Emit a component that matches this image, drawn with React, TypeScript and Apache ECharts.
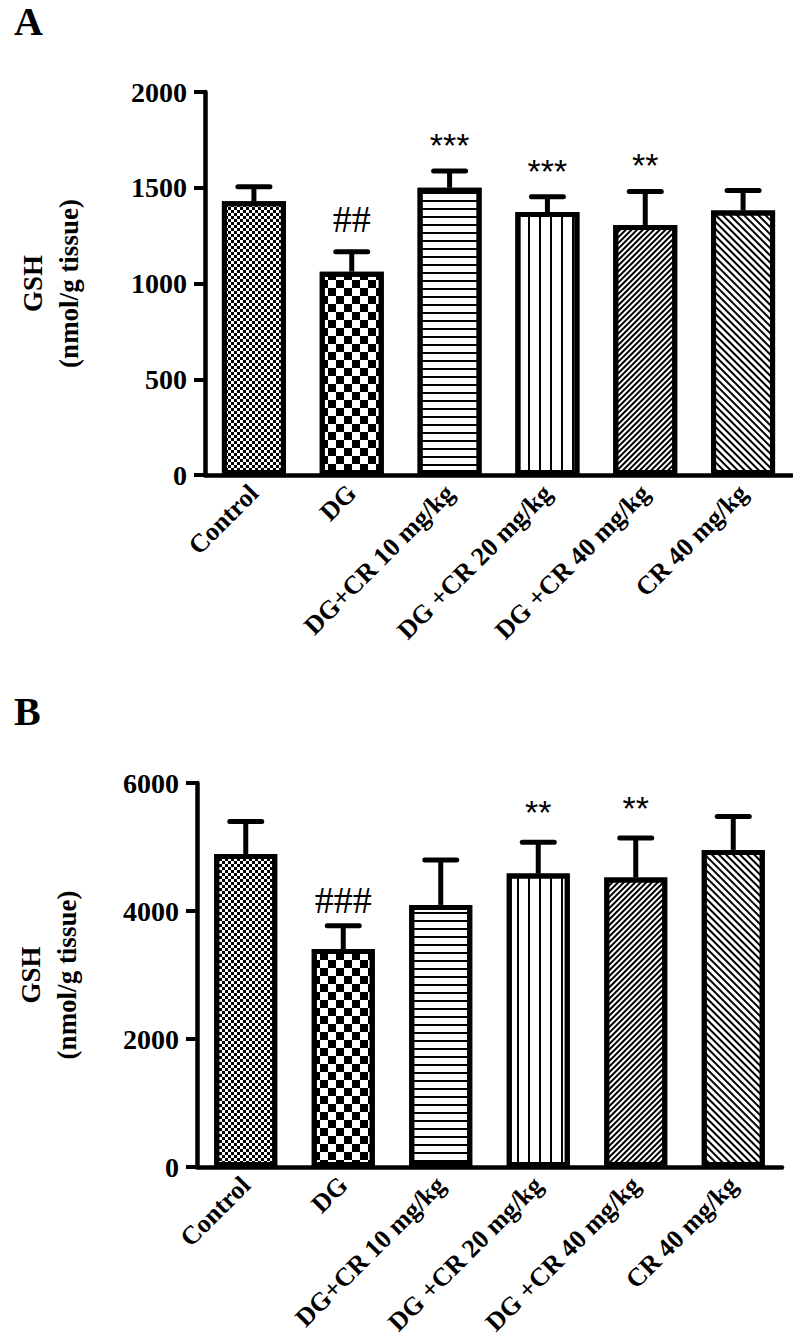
import React, { useEffect, useRef } from "react";
import * as echarts from "echarts";

// ---- data ----
const categories = [
  "Control",
  "DG",
  "DG+CR 10 mg/kg",
  "DG +CR 20 mg/kg",
  "DG +CR 40 mg/kg",
  "CR 40 mg/kg",
];
const gshA = [1430, 1062, 1500, 1373, 1305, 1381];
const semA = [75, 104, 87, 80, 176, 104];
const sigA = ["", "##", "***", "***", "**", ""];
const gshB = [4890, 3405, 4095, 4585, 4525, 4955];
const semB = [510, 365, 700, 490, 615, 520];
const sigB = ["", "###", "", "**", "**", ""];
const yMaxA = 2000;
const yStepA = 500;
const yMaxB = 6000;
const yStepB = 2000;
const axisTitle = "GSH\n(nmol/g tissue)";
const panelLabels = ["A", "B"];

// ---- styles ----
const SERIF = "Liberation Serif";
const SANS = "Liberation Sans";
const decals: any[] = [
  { symbol: "rect", symbolSize: 1, dashArrayX: [[3, 3], [0, 3, 3, 0]], dashArrayY: [3, 0], color: "#000" },
  { symbol: "rect", symbolSize: 1, dashArrayX: [[8, 8], [0, 8, 8, 0]], dashArrayY: [8, 0], color: "#000" },
  { symbol: "rect", symbolSize: 1, dashArrayX: [1, 0], dashArrayY: [2, 6], color: "#000" },
  { symbol: "rect", symbolSize: 1, dashArrayX: [2, 9], dashArrayY: [1, 0], color: "#000" },
  { symbol: "rect", symbolSize: 1, dashArrayX: [1, 0], dashArrayY: [1.5, 2], rotation: -Math.PI / 4, color: "#000" },
  { symbol: "rect", symbolSize: 1, dashArrayX: [1, 0], dashArrayY: [1.5, 2.7], rotation: Math.PI / 4, color: "#000" },
];

function barSeries(idx: number, values: number[], barWidth: number) {
  return {
    type: "bar",
    xAxisIndex: idx,
    yAxisIndex: idx,
    barWidth,
    z: 2,
    data: values.map((v, i) => ({
      value: v,
      itemStyle: { color: "#fff", borderColor: "#000", borderWidth: 5, decal: decals[i] },
    })),
  };
}

function errSeries(idx: number, means: number[], sems: number[], sigs: string[], gapStar: number, gapHash: number) {
  return {
    type: "custom",
    xAxisIndex: idx,
    yAxisIndex: idx,
    z: 3,
    encode: { x: 0, y: [1, 2] },
    data: means.map((m, i) => [i, m, m + sems[i]]),
    renderItem: (params: any, api: any) => {
      const i = api.value(0);
      const base = api.coord([i, api.value(1)]);
      const top = api.coord([i, api.value(2)]);
      const x = base[0];
      const sig = sigs[params.dataIndex];
      const children: any[] = [
        { type: "line", shape: { x1: x, y1: base[1], x2: x, y2: top[1] }, style: { stroke: "#000", lineWidth: 5 } },
        { type: "line", shape: { x1: x - 16, y1: top[1], x2: x + 16, y2: top[1] }, style: { stroke: "#000", lineWidth: 5, lineCap: "round" } },
      ];
      if (sig) {
        const star = sig[0] === "*";
        children.push({
          type: "text",
          x,
          y: top[1] - (star ? gapStar : gapHash),
          style: {
            text: sig,
            align: "center",
            verticalAlign: "middle",
            fontFamily: star ? SANS : SERIF,
            fontSize: star ? 34 : 38,
            fill: "#000",
          },
        });
      }
      return { type: "group", children };
    },
  };
}

function xAxisCfg(idx: number) {
  return {
    type: "category",
    gridIndex: idx,
    data: categories,
    axisLine: { lineStyle: { color: "#000", width: 4.5 } },
    axisTick: { show: false },
    axisLabel: {
      rotate: 45,
      interval: 0,
      margin: 14,
      color: "#000",
      fontFamily: SERIF,
      fontWeight: "bold",
      fontSize: 26,
    },
  };
}

function yAxisCfg(idx: number, max: number, step: number, nameGap: number) {
  return {
    type: "value",
    gridIndex: idx,
    min: 0,
    max,
    interval: step,
    splitLine: { show: false },
    axisLine: { show: true, lineStyle: { color: "#000", width: 4.5 } },
    axisTick: { show: true, length: 11, lineStyle: { color: "#000", width: 4 } },
    axisLabel: {
      margin: 18,
      color: "#000",
      fontFamily: SERIF,
      fontWeight: "bold",
      fontSize: 28,
      formatter: (v: number) => String(v),
    },
    name: axisTitle,
    nameLocation: "middle",
    nameRotate: 90,
    nameGap,
    nameTextStyle: { color: "#000", fontFamily: SERIF, fontWeight: "bold", fontSize: 27, lineHeight: 36 },
  };
}

export default function App() {
  const ref = useRef<HTMLDivElement>(null);
  useEffect(() => {
    if (!ref.current) return;
    const chart = echarts.init(ref.current, undefined, { renderer: "svg" });
    chart.setOption({
      animation: false,
      backgroundColor: "#fff",
      grid: [
        { left: 205, right: 1, top: 92, bottom: 1343 - 475 },
        { left: 197, right: 11, top: 783, bottom: 1343 - 1167 },
      ],
      xAxis: [xAxisCfg(0), xAxisCfg(1)],
      yAxis: [yAxisCfg(0, yMaxA, yStepA, 118), yAxisCfg(1, yMaxB, yStepB, 112)],
      graphic: panelLabels.map((t, i) => ({
        type: "text",
        left: 14,
        top: i === 0 ? 1 : 691,
        style: { text: t, fontFamily: SERIF, fontWeight: "bold", fontSize: 40, fill: "#000" },
      })),
      series: [
        barSeries(0, gshA, 64),
        errSeries(0, gshA, semA, sigA, 26, 33),
        barSeries(1, gshB, 63),
        errSeries(1, gshB, semB, sigB, 30, 26),
      ],
    });
    return () => chart.dispose();
  }, []);
  return (
    <div
      ref={ref}
      style={{ position: "absolute", left: 0, top: 0, width: 793, height: 1343, background: "#fff" }}
    />
  );
}
